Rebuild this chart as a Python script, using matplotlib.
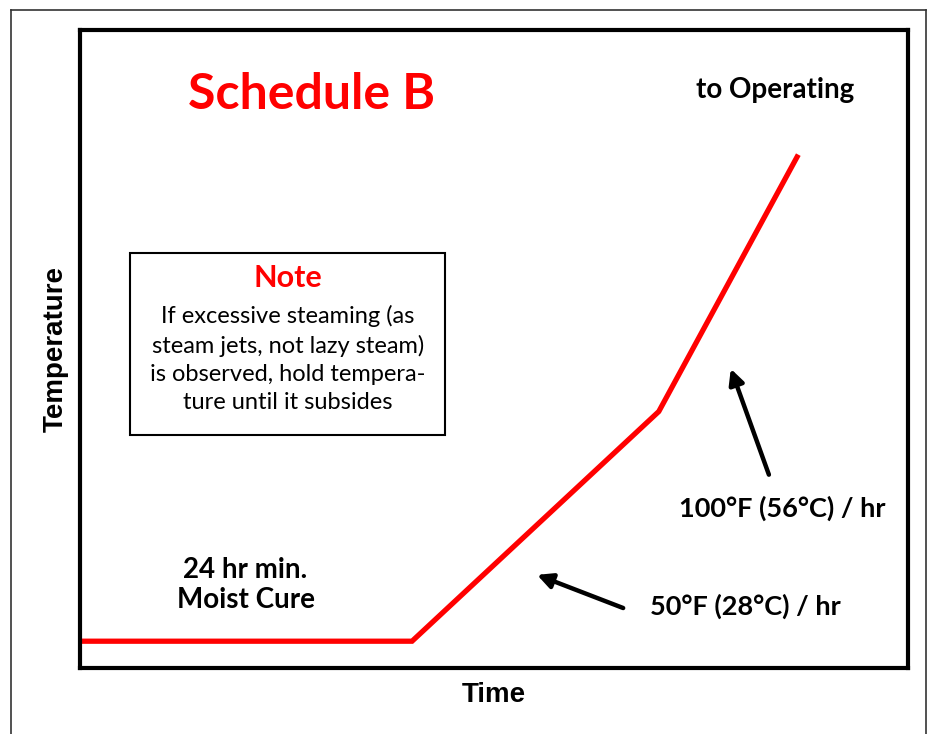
import matplotlib
matplotlib.use("Agg")
import matplotlib.pyplot as plt
from matplotlib.lines import Line2D

# schematic curing schedule (axis units are relative)
time_pts = [0.2, 40.1, 69.9, 86.6]
temp_pts = [4.2, 4.2, 40.2, 80.1]

TITLE = "Schedule B"
TOP_LABEL = "to Operating"
HOLD_LABEL = "24 hr min.\nMoist Cure"
RATE1 = "50°F (28°C) / hr"
RATE2 = "100°F (56°C) / hr"
NOTE_HEAD = "Note"
NOTE_BODY = ("If excessive steaming (as\nsteam jets, not lazy steam)\n"
             "is observed, hold tempera-\nture until it subsides")

W, H = 929, 734
fig = plt.figure(figsize=(W / 100, H / 100), dpi=100)
ax = fig.add_axes([80 / W, (H - 668) / H, 828 / W, 638 / H])
ax.set_xlim(0, 100); ax.set_ylim(0, 100)
ax.set_xticks([]); ax.set_yticks([])
for s in ax.spines.values():
    s.set_linewidth(3); s.set_color("black")

# outer page frame (open at the bottom)
fx = lambda p: p / W
fy = lambda p: 1 - p / H
for xs, ys in [([11, 11], [10, 734]), ([11, 926], [10, 10]), ([926, 926], [10, 734])]:
    fig.add_artist(Line2D([fx(x) for x in xs], [fy(y) for y in ys], color="#333333", lw=1.2))

ax.plot(time_pts, temp_pts, color="#ff0000", lw=3.8, solid_joinstyle="miter", clip_on=False)

f = "Lato"
ax.text(28.0, 89.9, TITLE, color="#ff0000", fontsize=36, fontweight="bold", family=f,
        ha="center", va="center")
ax.text(84.0, 90.6, TOP_LABEL, fontsize=20, fontweight="bold", family=f, ha="center", va="center")
ax.text(20.0, 13.0, HOLD_LABEL, fontsize=20, fontweight="bold", family=f, ha="center", va="center",
        linespacing=1.15)
ax.text(80.3, 9.6, RATE1, fontsize=19.5, fontweight="bold", family=f, ha="center", va="center")
ax.text(84.8, 25.1, RATE2, fontsize=19.5, fontweight="bold", family=f, ha="center", va="center")

# note box
ax.add_patch(plt.Rectangle((50 / 828 * 100, (668 - 435) / 638 * 100), 315 / 828 * 100, 182 / 638 * 100,
                           fill=False, ec="black", lw=1.5))
ax.text(25.1, 61.1, NOTE_HEAD, color="#ff0000", fontsize=22, fontweight="bold", family=f,
        ha="center", va="center")
ax.text(25.1, 48.4, NOTE_BODY, fontsize=17, family=f, ha="center", va="center", linespacing=1.42)

arrow = dict(arrowstyle="-|>,head_length=0.9,head_width=0.45", color="black", lw=3.2,
             shrinkA=0, shrinkB=0)
ax.annotate("", xy=(55.2, 14.6), xytext=(65.6, 9.4), arrowprops=arrow)
ax.annotate("", xy=(78.6, 46.9), xytext=(83.2, 30.3), arrowprops=arrow)

ax.set_ylabel("Temperature", fontsize=20, fontweight="bold", family="Liberation Sans", labelpad=8)
ax.set_xlabel("Time", fontsize=20, fontweight="bold", family="Liberation Sans", labelpad=10)

fig.savefig("out.png", dpi=100)
